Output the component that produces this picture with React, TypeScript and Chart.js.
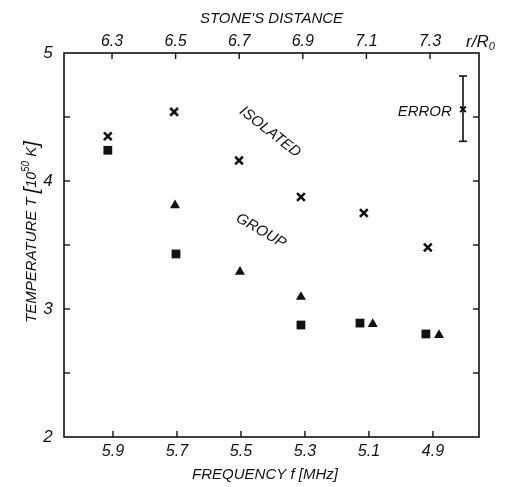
import React, { useEffect, useRef } from "react";
import { Chart, registerables } from "chart.js";

Chart.register(...registerables);

// ---- data (frequency in MHz, temperature in 10^5 K) ----
const isolatedFreq = [5.916, 5.709, 5.506, 5.3125, 5.116, 4.916];
const isolatedTemp = [4.35, 4.54, 4.16, 3.875, 3.75, 3.48];
const squareFreq = [5.916, 5.703, 5.3125, 5.128, 4.922];
const squareTemp = [4.24, 3.43, 2.875, 2.89, 2.805];
const groupFreq = [5.706, 5.503, 5.3125, 5.088, 4.881];
const groupTemp = [3.81, 3.29, 3.094, 2.883, 2.797];
const errorFreq = [4.806, 4.806];
const errorTemp = [4.31, 4.82];
const errorMidTemp = [4.56];

// ---- axes ----
const freqTicks = [5.9, 5.7, 5.5, 5.3, 5.1, 4.9];
const distanceTicks = [6.3, 6.5, 6.7, 6.9, 7.1, 7.3];
const tempLabelTicks = [2, 3, 4, 5];
const tempMinorTicks = [2.5, 3, 3.5, 4, 4.5];
const freqRange = [4.756, 6.053];
const distanceRange = [6.149, 7.454];
const tempRange = [2, 5];

// ---- text annotations (data coordinates) ----
const notes = [
  { text: "ISOLATED", f: 5.409, t: 4.383, angle: 38, align: "center" },
  { text: "GROUP", f: 5.4375, t: 3.61, angle: 30, align: "center" },
  { text: "ERROR", f: 4.841, t: 4.54, angle: 0, align: "right" },
];

const FONT = '"Liberation Sans", "DejaVu Sans", sans-serif';
const INK = "#111";

const toPts = (xs: number[], ys: number[]) => xs.map((x, i) => ({ x, y: ys[i] }));

const framePlugin = {
  id: "frame",
  afterDraw(chart: any) {
    const { ctx, chartArea: a, scales } = chart;
    const sx = scales.x, sx2 = scales.x2, sy = scales.y;
    ctx.save();
    ctx.strokeStyle = INK;
    ctx.fillStyle = INK;
    ctx.lineWidth = 1.6;
    ctx.strokeRect(a.left, a.top, a.right - a.left, a.bottom - a.top);
    const line = (x1: number, y1: number, x2: number, y2: number) => {
      ctx.beginPath();
      ctx.moveTo(x1, y1);
      ctx.lineTo(x2, y2);
      ctx.stroke();
    };
    const tl = 6;
    ctx.lineWidth = 1.4;
    freqTicks.forEach((v) => {
      const px = sx.getPixelForValue(v);
      line(px, a.bottom, px, a.bottom - tl);
    });
    distanceTicks.forEach((v) => {
      const px = sx2.getPixelForValue(v);
      line(px, a.top, px, a.top + tl);
    });
    tempMinorTicks.forEach((v) => {
      const py = sy.getPixelForValue(v);
      line(a.left, py, a.left + tl, py);
      line(a.right, py, a.right - tl, py);
    });

    // tick labels
    ctx.font = `italic 16px ${FONT}`;
    ctx.textAlign = "center";
    ctx.textBaseline = "middle";
    freqTicks.forEach((v) => {
      ctx.fillText(v.toFixed(1), sx.getPixelForValue(v), a.bottom + 15);
    });
    distanceTicks.forEach((v) => {
      ctx.fillText(v.toFixed(1), sx2.getPixelForValue(v), a.top - 11);
    });
    ctx.font = `italic 17px ${FONT}`;
    tempLabelTicks.forEach((v) => {
      ctx.fillText(String(v), a.left - 16, sy.getPixelForValue(v));
    });

    // r/R0
    ctx.font = `italic 17px ${FONT}`;
    ctx.textAlign = "left";
    const rx = a.right - 13;
    ctx.fillText("r/R", rx, a.top - 11);
    const rw = ctx.measureText("r/R").width;
    ctx.font = `italic 11px ${FONT}`;
    ctx.fillText("0", rx + rw, a.top - 6);

    // axis titles
    ctx.font = `italic 15px ${FONT}`;
    ctx.textAlign = "center";
    ctx.fillText("STONE'S DISTANCE", (a.left + a.right) / 2, 19);
    ctx.fillText("FREQUENCY f [MHz]", 265, a.bottom + 38);

    // y title (rotated)
    ctx.save();
    ctx.translate(32, 232);
    ctx.rotate(-Math.PI / 2);
    ctx.textAlign = "left";
    const parts = [
      { s: "TEMPERATURE T ", f: `italic 15px ${FONT}`, dy: 0 },
      { s: "[", f: `italic 20px ${FONT}`, dy: 0 },
      { s: "10", f: `italic 14px ${FONT}`, dy: 0 },
      { s: "50", f: `italic 10px ${FONT}`, dy: -6 },
      { s: " K", f: `italic 15px ${FONT}`, dy: 0 },
      { s: "]", f: `italic 20px ${FONT}`, dy: 0 },
    ];
    let total = 0;
    parts.forEach((p) => {
      ctx.font = p.f;
      total += ctx.measureText(p.s).width;
    });
    let cx = -total / 2;
    parts.forEach((p) => {
      ctx.font = p.f;
      ctx.fillText(p.s, cx, p.dy);
      cx += ctx.measureText(p.s).width;
    });
    ctx.restore();

    // annotations
    ctx.font = `italic 15px ${FONT}`;
    notes.forEach((n) => {
      const px = sx.getPixelForValue(n.f);
      const py = sy.getPixelForValue(n.t);
      ctx.save();
      ctx.translate(px, py);
      ctx.rotate((n.angle * Math.PI) / 180);
      ctx.textAlign = n.align as CanvasTextAlign;
      ctx.fillText(n.text, 0, 0);
      ctx.restore();
    });
    ctx.restore();
  },
};

export default function App() {
  const ref = useRef<HTMLCanvasElement | null>(null);
  useEffect(() => {
    if (!ref.current) return;
    const chart = new Chart(ref.current, {
      type: "scatter",
      data: {
        datasets: [
          {
            label: "isolated",
            data: toPts(isolatedFreq, isolatedTemp),
            pointStyle: "crossRot",
            pointRadius: 5.5,
            borderWidth: 2.6,
            borderColor: INK,
            backgroundColor: INK,
          },
          {
            label: "squares",
            data: toPts(squareFreq, squareTemp),
            pointStyle: "rect",
            pointRadius: 6.2,
            borderWidth: 0,
            borderColor: INK,
            backgroundColor: INK,
          },
          {
            label: "group",
            data: toPts(groupFreq, groupTemp),
            pointStyle: "triangle",
            pointRadius: 5.8,
            borderWidth: 0,
            borderColor: INK,
            backgroundColor: INK,
          },
          {
            type: "line",
            label: "error bar",
            data: toPts(errorFreq, errorTemp),
            showLine: true,
            borderColor: INK,
            borderWidth: 1.6,
            pointStyle: "line",
            pointRadius: 4,
            pointBorderWidth: 1.6,
            pointBorderColor: INK,
          } as any,
          {
            label: "error mid",
            data: toPts([errorFreq[0]], errorMidTemp),
            pointStyle: "crossRot",
            pointRadius: 4,
            borderWidth: 2,
            borderColor: INK,
            backgroundColor: INK,
          },
        ],
      },
      options: {
        animation: false,
        responsive: false,
        layout: { padding: { left: 64, top: 53, right: 27, bottom: 50 } },
        plugins: { legend: { display: false }, tooltip: { enabled: false } },
        events: [],
        scales: {
          x: {
            type: "linear",
            display: false,
            reverse: true,
            min: freqRange[0],
            max: freqRange[1],
          },
          x2: {
            type: "linear",
            display: false,
            position: "top",
            min: distanceRange[0],
            max: distanceRange[1],
          },
          y: {
            type: "linear",
            display: false,
            min: tempRange[0],
            max: tempRange[1],
          },
        },
      },
      plugins: [framePlugin],
    });
    return () => chart.destroy();
  }, []);
  return (
    <canvas
      ref={ref}
      width={506}
      height={487}
      style={{ position: "absolute", left: 0, top: 0, display: "block", background: "#fff" }}
    />
  );
}
